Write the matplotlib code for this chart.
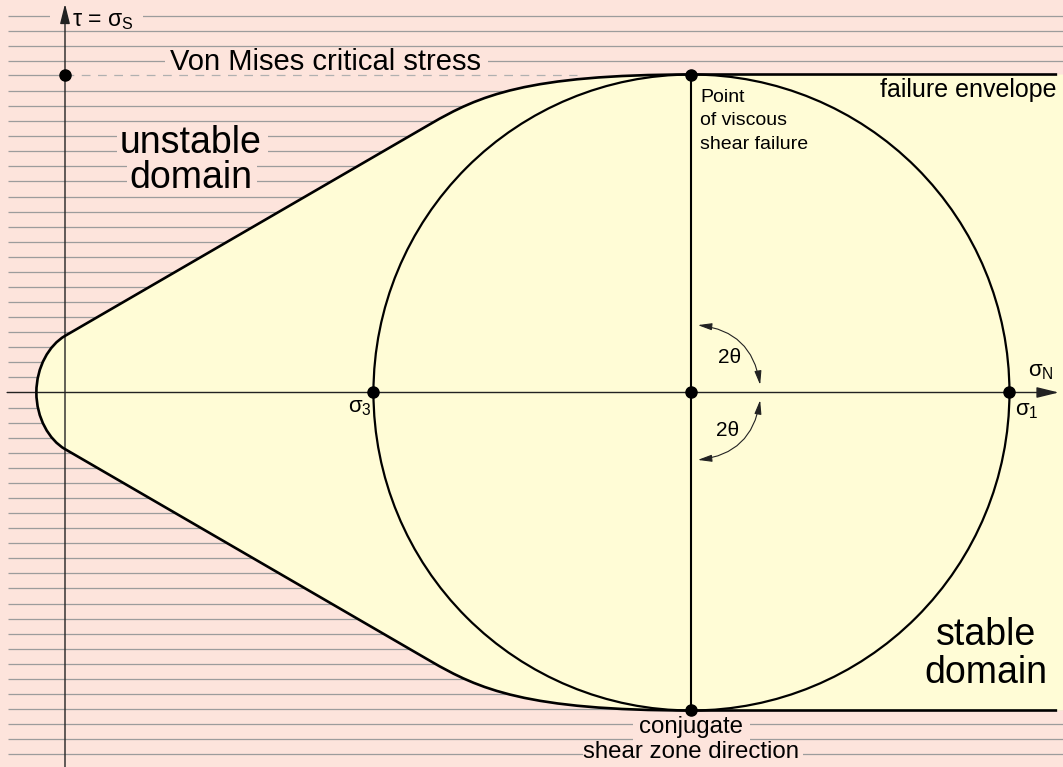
import numpy as np
import matplotlib.pyplot as plt
from matplotlib.path import Path
from matplotlib.patches import PathPatch, Circle, FancyArrowPatch, Rectangle

plt.rcParams['font.family'] = ['Liberation Sans', 'DejaVu Sans']
plt.rcParams['mathtext.fontset'] = 'custom'
plt.rcParams['mathtext.rm'] = 'Liberation Sans'
plt.rcParams['mathtext.it'] = 'Liberation Sans'

PINK = '#fde4dc'
YELLOW = '#fffcd6'

# stresses in units of the Mohr circle radius, origin on the tau axis
sigma_3 = 0.97
sigma_1 = 2.97
sigma_c = (sigma_1 + sigma_3) / 2
radius = (sigma_1 - sigma_3) / 2
tau_crit = 1.0            # von Mises critical stress
von_mises_end = 1.61      # where the dashed line stops

# upper branch of the failure envelope (bezier control points), lower one is mirrored
env_sigma = [-0.09, -0.09, -0.05, 0.0, 1.15, 1.3, 1.45, 1.97, 3.12]
env_tau = [0.0, 0.08, 0.149, 0.178, 0.845, 0.932, 1.0, 1.0, 1.0]
env_codes = [Path.MOVETO, Path.CURVE4, Path.CURVE4, Path.CURVE4, Path.LINETO,
             Path.CURVE4, Path.CURVE4, Path.CURVE4, Path.LINETO]

# 2 theta arcs: end on the vertical diameter, end near the sigma axis
arc_up = [(1.99, 0.212), (2.186, 0.024)]
arc_down = [(1.99, -0.212), (2.186, -0.024)]

# ruled background
ruling_step = 0.0474
ruling_idx = np.arange(-24, 26)

# gaps cut in the ruling behind labels: (sigma0, sigma1, tau0, tau1)
label_gaps = [(-0.047, 0.245, 1.159, 1.209),
              (0.314, 1.330, 1.008, 1.077),
              (0.164, 0.638, 0.743, 0.832),
              (0.195, 0.604, 0.643, 0.731),
              (1.786, 2.154, -1.105, -1.017),
              (1.629, 2.321, -1.162, -1.112)]

fig = plt.figure(figsize=(10.63, 7.67), dpi=100)
fig.patch.set_facecolor(PINK)
ax = fig.add_axes([0, 0, 1, 1])
ax.set_xlim(-0.2044, 3.1384)
ax.set_ylim(-1.1777, 1.2343)
ax.axis('off')

keep = (ruling_idx != 0) & (ruling_idx != 21)
ax.hlines(ruling_idx[keep] * ruling_step, -0.18, 3.14, colors='#9c9c9c', lw=0.9, zorder=1)
ax.hlines(tau_crit, -0.18, 0, colors='#9c9c9c', lw=0.9, zorder=1)
ax.plot([0, von_mises_end], [tau_crit, tau_crit], color='#b0b0b0', lw=0.9,
        dashes=(7, 6), zorder=4)
for s0, s1, t0, t1 in label_gaps:
    ax.add_patch(Rectangle((s0, t0), s1 - s0, t1 - t0, fc=PINK, ec='none', zorder=1.5))

# stable domain fill
up = list(zip(env_sigma, env_tau))
low = [(s, -t) for s, t in up]
x_edge = 3.2
fill_verts = up + [(x_edge, env_tau[-1]), (x_edge, -env_tau[-1])] + low[::-1]
fill_codes = env_codes + [Path.LINETO] * 3 + env_codes[1:][::-1]
ax.add_patch(PathPatch(Path(fill_verts, fill_codes), facecolor=YELLOW,
                       edgecolor='none', zorder=2))

# axes
ax.add_patch(FancyArrowPatch((0, -1.19), (0, 1.222),
                             arrowstyle='-|>,head_length=0.8,head_width=0.2',
                             mutation_scale=15, lw=1.0, color='#222222',
                             shrinkA=0, shrinkB=0, zorder=4))
ax.add_patch(FancyArrowPatch((-0.182, 0), (3.125, 0),
                             arrowstyle='-|>,head_length=0.9,head_width=0.22',
                             mutation_scale=15, lw=1.0, color='#222222',
                             shrinkA=0, shrinkB=0, zorder=4))

# envelope, circle, diameter
ax.add_patch(PathPatch(Path(up, env_codes), fill=False, lw=1.9, ec='black', zorder=5))
ax.add_patch(PathPatch(Path(low, env_codes), fill=False, lw=1.9, ec='black', zorder=5))
ax.add_patch(Circle((sigma_c, 0), radius, fill=False, lw=1.6, ec='black', zorder=5))
ax.plot([sigma_c, sigma_c], [-radius, radius], color='black', lw=1.5, zorder=5)

ax.plot([0, sigma_c, sigma_c, sigma_3, sigma_c, sigma_1],
        [tau_crit, radius, -radius, 0, 0, 0], 'o', ms=8, color='black', zorder=6)

for (a, b), rad in ((arc_up, -0.38), (arc_down, 0.38)):
    ax.add_patch(FancyArrowPatch(a, b, connectionstyle=f'arc3,rad={rad}',
                                 arrowstyle='<|-|>,head_length=0.6,head_width=0.15',
                                 mutation_scale=14, lw=0.8, color='#222222',
                                 shrinkA=0, shrinkB=0, zorder=4))

ax.text(0.022, 1.171, 'τ = σ$_{\\mathrm{S}}$', fontsize=16.5, va='center', ha='left',
        zorder=7)
ax.text(0.33, 1.014, 'Von Mises critical stress', fontsize=21, va='baseline',
        ha='left', zorder=7)
ax.text(0.396, 0.754, 'unstable', fontsize=27, va='baseline', ha='center', zorder=7)
ax.text(0.396, 0.643, 'domain', fontsize=27, va='baseline', ha='center', zorder=7)
ax.text(2.896, -0.794, 'stable', fontsize=27, va='baseline', ha='center', zorder=7)
ax.text(2.896, -0.913, 'domain', fontsize=27, va='baseline', ha='center', zorder=7)
ax.text(3.119, 0.929, 'failure envelope', fontsize=18, va='baseline', ha='right',
        zorder=7)
for txt, y in (('Point', 0.913), ('of viscous', 0.841), ('shear failure', 0.766)):
    ax.text(1.997, y, txt, fontsize=14, va='baseline', ha='left', zorder=7)
ax.text(sigma_c, -1.070, 'conjugate', fontsize=17.3, va='baseline', ha='center',
        zorder=7)
ax.text(sigma_c, -1.149, 'shear zone direction', fontsize=17.3, va='baseline',
        ha='center', zorder=7)

ax.text(0.965, -0.014, 'σ$_{\\mathrm{3}}$', fontsize=16, va='top', ha='right', zorder=7)
ax.text(2.987, -0.024, 'σ$_{\\mathrm{1}}$', fontsize=16, va='top', ha='left', zorder=7)
ax.text(3.028, 0.052, 'σ$_{\\mathrm{N}}$', fontsize=16, va='baseline', ha='left', zorder=7)
ax.text(2.09, 0.109, '2θ', fontsize=15, va='center', ha='center', zorder=7)
ax.text(2.085, -0.118, '2θ', fontsize=15, va='center', ha='center', zorder=7)

fig.savefig('out.png', dpi=100, facecolor=PINK)
